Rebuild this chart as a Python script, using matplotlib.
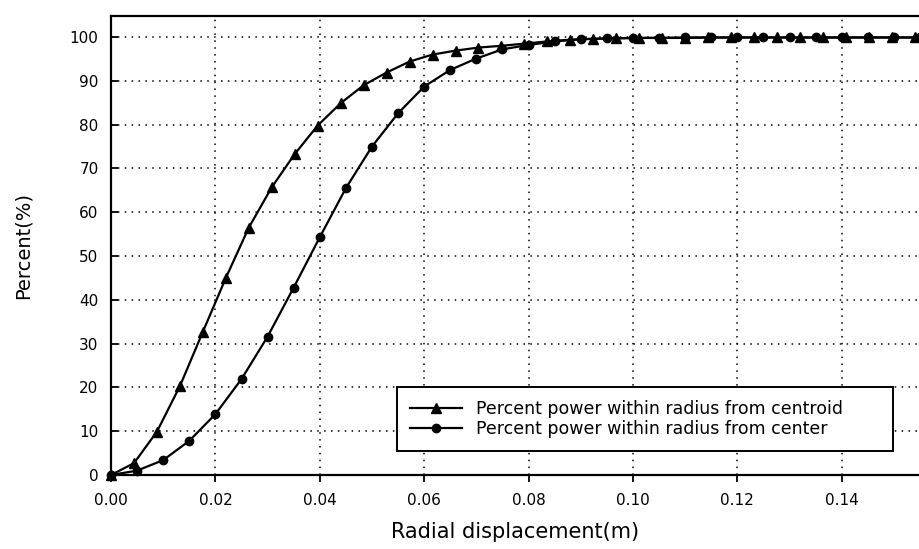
import matplotlib
matplotlib.use('Agg')
import matplotlib.pyplot as plt

# radius from centroid (triangles)
centroid_r = [0.0, 0.0044, 0.0088, 0.0132, 0.0176, 0.0220, 0.0264, 0.0308, 0.0352,
              0.0396, 0.0440, 0.0484, 0.0528, 0.0572, 0.0616, 0.0660, 0.0704, 0.0748,
              0.0792, 0.0836, 0.0880, 0.0924, 0.0968, 0.1012, 0.1056, 0.1100, 0.1144,
              0.1188, 0.1232, 0.1276, 0.1320, 0.1364, 0.1408, 0.1452, 0.1496, 0.1540]
centroid_pct = [0.0, 2.7, 9.9, 20.3, 32.7, 45.0, 56.5, 65.7, 73.3,
                79.8, 84.9, 89.0, 91.9, 94.4, 96.0, 96.9, 97.6, 98.0,
                98.5, 99.0, 99.4, 99.6, 99.7, 99.8, 99.8, 99.8, 99.9,
                99.9, 99.9, 99.9, 99.9, 99.9, 99.9, 99.9, 99.9, 99.9]

# radius from center (circles)
center_r = [0.0, 0.005, 0.010, 0.015, 0.020, 0.025, 0.030, 0.035, 0.040, 0.045,
            0.050, 0.055, 0.060, 0.065, 0.070, 0.075, 0.080, 0.085, 0.090, 0.095,
            0.100, 0.105, 0.110, 0.115, 0.120, 0.125, 0.130, 0.135, 0.140, 0.145,
            0.150, 0.155]
center_pct = [0.0, 1.0, 3.4, 7.8, 13.9, 21.9, 31.6, 42.8, 54.3, 65.5,
              75.0, 82.6, 88.7, 92.5, 95.1, 97.2, 98.2, 99.0, 99.5, 99.7,
              99.8, 99.8, 99.9, 99.9, 99.9, 99.9, 99.9, 99.9, 99.9, 99.9,
              99.9, 99.9]

x_ticks = [0.00, 0.02, 0.04, 0.06, 0.08, 0.10, 0.12, 0.14]
y_ticks = [0, 10, 20, 30, 40, 50, 60, 70, 80, 90, 100]

plt.rcParams['font.family'] = ['DejaVu Sans']

fig = plt.figure(figsize=(9.19, 5.49), dpi=100)
ax = fig.add_axes([0.1208, 0.1348, 0.8792, 0.836])

ax.plot(centroid_r, centroid_pct, color='black', linewidth=1.6, marker='^',
        markersize=6.5, label='Percent power within radius from centroid', clip_on=False)
ax.plot(center_r, center_pct, color='black', linewidth=1.6, marker='o',
        markersize=6, label='Percent power within radius from center', clip_on=False)

ax.set_xlim(0, 0.1548)
ax.set_ylim(0, 104.8)
ax.set_xticks(x_ticks)
ax.set_xticklabels([f'{t:.2f}' for t in x_ticks])
ax.set_yticks(y_ticks)

ax.grid(True, color='black', linestyle=(0, (1, 3.5)), linewidth=1.1)
ax.set_axisbelow(True)

ax.spines['right'].set_visible(False)
for s in ['left', 'bottom', 'top']:
    ax.spines[s].set_linewidth(1.6)

ax.tick_params(axis='y', direction='in', length=5, width=1.3, labelsize=11, pad=9)
ax.tick_params(axis='x', direction='out', length=5, width=1.3, labelsize=11, pad=8)

ax.set_xlabel('Radial displacement(m)', fontsize=15, labelpad=10)
ax.set_ylabel('Percent(%)', fontsize=14, labelpad=27)

leg = ax.legend(loc='lower left', bbox_to_anchor=(0.354, 0.052, 0.614, 0.14),
                mode='expand', fontsize=12.5,
                frameon=True, fancybox=False, edgecolor='black', framealpha=1,
                handlelength=3.0, borderpad=0.75, labelspacing=0.1, handletextpad=0.8,
                borderaxespad=0)
leg.get_frame().set_linewidth(1.4)

fig.savefig('out.png', dpi=100)
